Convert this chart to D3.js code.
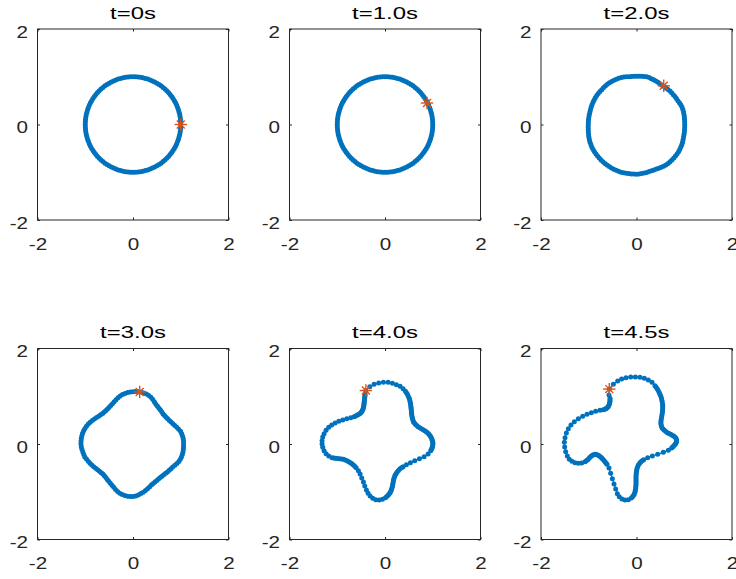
<!DOCTYPE html>
<html>
<head>
<meta charset="utf-8">
<script src="https://cdn.jsdelivr.net/npm/d3@7"></script>
<style>
  body { margin: 0; background: #fff; }
  svg { display: block; font-family: "Liberation Sans", Arial, Helvetica, sans-serif; }
</style>
</head>
<body>
<svg id="fig" width="736" height="579"></svg>
<script>
// ---- data ----
var titles = ["t=0s", "t=1.0s", "t=2.0s", "t=3.0s", "t=4.0s", "t=4.5s"];
var tick_values = [-2, 0, 2];

// first four snapshots: radius of the interface every 3 degrees (0..357)
var angles = d3.range(0, 360, 3);
var r_t00 = [1,1,1,1,1,1,1,1,1,1, 1,1,1,1,1,1,1,1,1,1, 1,1,1,1,1,1,1,1,1,1,
             1,1,1,1,1,1,1,1,1,1, 1,1,1,1,1,1,1,1,1,1, 1,1,1,1,1,1,1,1,1,1,
             1,1,1,1,1,1,1,1,1,1, 1,1,1,1,1,1,1,1,1,1, 1,1,1,1,1,1,1,1,1,1,
             1,1,1,1,1,1,1,1,1,1, 1,1,1,1,1,1,1,1,1,1, 1,1,1,1,1,1,1,1,1,1];
var r_t10 = [1,1,1,1,1,1,1,1,1,1, 1,1,1,1,1,1,1,1,1,1, 1,1,1,1,1,1,1,1,1,1,
             1,1,1,1,1,1,1,1,1,1, 1,1,1,1,1,1,1,1,1,1, 1,1,1,1,1,1,1,1,1,1,
             1,1,1,1,1,1,1,1,1,1, 1,1,1,1,1,1,1,1,1,1, 1,1,1,1,1,1,1,1,1,1,
             1,1,1,1,1,1,1,1,1,1, 1,1,1,1,1,1,1,1,1,1, 1,1,1,1,1,1,1,1,1,1];
var r_t20 = [1.01,1.01,1.011,1.014,1.017,1.02,1.02,1.02,1.014,1.008,
             1.0,0.997,0.994,0.991,0.99,0.99,0.987,0.984,0.982,0.982,
             0.985,0.991,0.997,1.004,1.01,1.02,1.02,1.02,1.018,1.014,
             1.01,1.01,1.01,1.014,1.022,1.03,1.033,1.036,1.038,1.04,
             1.04,1.04,1.04,1.038,1.035,1.03,1.03,1.03,1.03,1.028,
             1.025,1.022,1.019,1.016,1.013,1.01,1.01,1.01,1.01,1.01,
             1.01,1.013,1.016,1.02,1.026,1.032,1.038,1.042,1.045,1.048,
             1.05,1.05,1.05,1.05,1.05,1.05,1.05,1.05,1.05,1.05,
             1.05,1.05,1.05,1.05,1.05,1.045,1.042,1.04,1.04,1.04,
             1.04,1.037,1.034,1.031,1.026,1.02,1.02,1.02,1.022,1.027,
             1.035,1.041,1.047,1.05,1.05,1.05,1.05,1.05,1.05,1.05,
             1.045,1.042,1.038,1.032,1.026,1.02,1.017,1.015,1.013,1.011];
var r_t30 = [1.06,1.06,1.058,1.052,1.042,1.03,1.006,0.982,0.958,0.938,
             0.92,0.908,0.898,0.892,0.89,0.89,0.902,0.914,0.926,0.942,
             0.96,0.99,1.02,1.05,1.07,1.085,1.091,1.096,1.099,1.099,
             1.095,1.089,1.082,1.073,1.058,1.04,1.016,0.992,0.968,0.948,
             0.93,0.918,0.908,0.902,0.90,0.90,0.912,0.926,0.944,0.964,
             0.985,1.006,1.026,1.044,1.058,1.07,1.079,1.086,1.089,1.09,
             1.09,1.084,1.076,1.064,1.054,1.045,1.024,1.004,0.986,0.968,
             0.95,0.932,0.916,0.904,0.896,0.89,0.896,0.904,0.916,0.932,
             0.95,0.968,0.99,1.02,1.046,1.07,1.082,1.092,1.098,1.10,
             1.10,1.088,1.073,1.052,1.031,1.01,0.986,0.963,0.942,0.929,
             0.92,0.914,0.909,0.906,0.907,0.91,0.919,0.928,0.937,0.948,
             0.96,0.984,1.007,1.028,1.041,1.05,1.056,1.06,1.06,1.06];

// last two snapshots: marker positions along the interface (starting at the tracked point)
var x_t40 = [-0.403,-0.319,-0.229,-0.131,-0.033,0.065,0.155,0.239,0.316,0.379,0.428,
             0.449,0.470,0.488,0.505,0.516,0.526,0.533,0.539,0.543,0.546,0.550,0.553,0.557,0.560,0.567,0.574,0.585,0.595,0.616,0.637,
             0.665,0.693,0.728,0.763,0.798,0.833,0.864,0.895,0.920,0.944,0.962,0.979,0.990,1.000,1.003,1.000,0.994,0.986,0.972,0.958,
             0.902,0.819,0.721,0.623,0.532,0.448,
             0.379,0.344,0.309,0.281,0.253,0.232,0.211,0.197,0.183,0.176,0.169,0.162,0.155,0.145,0.134,0.120,0.106,0.086,0.065,0.037,
             0.009,-0.054,-0.124,-0.194,-0.257,-0.312,-0.354,
             -0.389,-0.424,-0.452,-0.487,-0.522,-0.557,
             -0.605,-0.633,-0.661,-0.693,-0.724,-0.759,-0.794,-0.833,-0.871,-0.913,-0.955,-0.997,-1.039,-1.074,-1.109,
             -1.178,-1.234,-1.276,-1.304,-1.318,-1.318,-1.304,-1.276,-1.234,-1.178,-1.115,-1.045,-0.968,-0.885,-0.801,-0.717,
             -0.647,-0.616,-0.585,-0.557,-0.529,-0.508,-0.487,-0.473,-0.459,-0.452,-0.445,-0.441,-0.438,-0.434,-0.431,-0.427,-0.424,-0.420,-0.417];
var y_t40 = [1.117,1.201,1.250,1.277,1.291,1.291,1.270,1.243,1.208,1.159,1.103,
             1.072,1.040,1.002,0.963,0.925,0.887,0.852,0.817,0.782,0.747,0.712,0.677,0.642,0.607,0.573,0.538,0.503,0.468,0.440,0.412,
             0.388,0.363,0.342,0.321,0.300,0.279,0.255,0.230,0.203,0.175,0.144,0.112,0.081,0.049,0.014,-0.021,-0.053,-0.084,-0.112,-0.140,
             -0.209,-0.265,-0.307,-0.349,-0.391,-0.433,
             -0.475,-0.499,-0.524,-0.555,-0.586,-0.621,-0.656,-0.695,-0.733,-0.772,-0.810,-0.849,-0.887,-0.922,-0.956,-0.988,-1.019,-1.047,-1.075,-1.100,
             -1.124,-1.159,-1.173,-1.166,-1.138,-1.089,-1.033,
             -0.963,-0.880,-0.796,-0.712,-0.628,-0.558,
             -0.496,-0.468,-0.440,-0.415,-0.391,-0.370,-0.349,-0.335,-0.321,-0.314,-0.307,-0.303,-0.300,-0.293,-0.286,
             -0.251,-0.202,-0.140,-0.070,0.000,0.070,0.147,0.216,0.286,0.349,0.398,0.440,0.475,0.503,0.531,0.551,
             0.572,0.586,0.600,0.617,0.635,0.656,0.677,0.705,0.733,0.764,0.796,0.827,0.859,0.890,0.921,0.952,0.984,1.015,1.047];
var x_t45 = [-0.569,-0.485,-0.394,-0.311,-0.220,-0.122,-0.024,0.073,0.164,0.248,0.325,0.387,
             0.412,0.436,0.457,0.478,0.496,0.513,0.524,0.534,0.541,0.548,0.549,0.548,0.545,0.541,0.534,0.527,0.520,0.513,0.511,0.513,
             0.521,0.534,0.556,0.583,0.614,0.646,0.681,0.716,0.747,0.778,0.804,0.827,0.837,0.841,0.834,0.820,0.800,0.778,0.757,0.736,
             0.667,0.562,0.443,0.332,0.234,
             0.150,0.119,0.087,0.063,0.038,0.024,0.010,0.004,-0.003,-0.007,-0.010,-0.010,-0.010,-0.010,-0.010,-0.014,-0.017,-0.024,-0.031,-0.045,
             -0.059,-0.084,-0.108,-0.171,-0.241,-0.304,-0.360,-0.401,
             -0.436,-0.471,-0.506,-0.541,-0.576,
             -0.618,-0.639,-0.660,-0.685,-0.709,-0.733,-0.757,-0.785,-0.813,-0.841,-0.869,-0.897,-0.925,-0.950,-0.974,-0.998,-1.022,-1.050,-1.078,-1.148,
             -1.218,-1.288,-1.351,-1.407,
             -1.449,-1.483,-1.504,-1.511,-1.497,-1.469,-1.428,-1.372,-1.302,-1.218,-1.127,-1.036,-0.946,-0.855,-0.764,
             -0.694,-0.666,-0.639,-0.618,-0.597,-0.583,-0.569,-0.562,-0.555,-0.555,-0.555,
             -0.576];
var y_t45 = [1.152,1.250,1.319,1.361,1.389,1.403,1.403,1.396,1.375,1.340,1.291,1.222,
             1.187,1.152,1.114,1.075,1.033,0.991,0.950,0.908,0.866,0.824,0.782,0.740,0.698,0.656,0.614,0.572,0.531,0.489,0.450,0.412,
             0.376,0.342,0.313,0.286,0.260,0.237,0.219,0.202,0.185,0.168,0.145,0.119,0.091,0.063,0.035,0.007,-0.018,-0.042,-0.063,-0.084,
             -0.133,-0.175,-0.216,-0.251,-0.286,
             -0.328,-0.353,-0.377,-0.409,-0.440,-0.479,-0.517,-0.555,-0.593,-0.635,-0.677,-0.719,-0.761,-0.803,-0.845,-0.887,-0.928,-0.967,-1.005,-1.040,
             -1.075,-1.103,-1.131,-1.166,-1.173,-1.152,-1.103,-1.040,
             -0.942,-0.838,-0.726,-0.614,-0.503,
             -0.426,-0.398,-0.370,-0.342,-0.314,-0.290,-0.265,-0.245,-0.230,-0.220,-0.216,-0.225,-0.237,-0.258,-0.279,-0.304,-0.328,-0.350,-0.370,-0.398,
             -0.405,-0.391,-0.363,-0.321,
             -0.251,-0.161,-0.063,0.035,0.133,0.230,0.321,0.398,0.468,0.531,0.579,0.621,0.656,0.684,0.705,
             0.719,0.729,0.740,0.757,0.775,0.803,0.831,0.862,0.894,0.925,0.956,
             1.026];

// tracked point (red asterisk) in each panel
var star_x = [1.00, 0.88, 0.57, 0.14, -0.40, -0.57];
var star_y = [0.00, 0.45, 0.81, 1.09, 1.12, 1.15];

// ---- build point lists ----
function polar_points(radii) {
  return angles.map(function(a, i) {
    var t = a * Math.PI / 180;
    return [radii[i] * Math.cos(t), radii[i] * Math.sin(t)];
  });
}
function xy_points(xs, ys) {
  return d3.range(Math.min(xs.length, ys.length)).map(function(i) { return [xs[i], ys[i]]; });
}
var curves = [polar_points(r_t00), polar_points(r_t10), polar_points(r_t20),
              polar_points(r_t30), xy_points(x_t40, y_t40), xy_points(x_t45, y_t45)];

// ---- layout ----
var svg = d3.select("#fig");
var col_left = [37.5, 289.5, 541],
    row_top = [29, 348.5],
    size = 191;
var axis_color = "#262626",
    blue = "#0072BD",
    orange = "#D95319";
var tick_stretch = 1.25, title_stretch = 1.45;

var x = d3.scaleLinear().domain([-2, 2]).range([0, size]);
var y = d3.scaleLinear().domain([-2, 2]).range([size, 0]);

var line = d3.line()
  .x(function(d) { return x(d[0]); })
  .y(function(d) { return y(d[1]); })
  .curve(d3.curveLinearClosed);

// plain hyphen minus, like the reference labels
var tick_fmt = function(d) { return String(d); };

function style_axis(g) {
  g.attr("font-size", null).attr("font-family", null).attr("color", axis_color);
  g.select(".domain").remove();
  g.selectAll("line").attr("stroke", axis_color);
  g.selectAll("text").style("font-size", "16.5px").attr("fill", axis_color);
}

curves.forEach(function(pts, p) {
  var left = col_left[p % 3], top = row_top[Math.floor(p / 3)];
  var g = svg.append("g").attr("transform", "translate(" + left + "," + top + ")");

  // title
  svg.append("text")
    .attr("transform", "translate(" + (left + size / 2) + "," + (top - 10.5) + ") scale(" + title_stretch + ",1)")
    .attr("text-anchor", "middle")
    .style("font-size", "16.5px")
    .attr("fill", "#000")
    .text(titles[p]);

  // axes with inward ticks
  var gb = g.append("g").attr("transform", "translate(0," + size + ")")
    .call(d3.axisBottom(x).tickValues(tick_values).tickFormat(tick_fmt)
      .tickSizeInner(-2.5).tickSizeOuter(0).tickPadding(18));
  style_axis(gb);
  gb.selectAll("text").attr("transform", "scale(" + tick_stretch + ",1)");

  var gl = g.append("g")
    .call(d3.axisLeft(y).tickValues(tick_values).tickFormat(tick_fmt)
      .tickSizeInner(-2.5).tickSizeOuter(0).tickPadding(9.5));
  style_axis(gl);
  gl.selectAll("text")
    .attr("x", -9.5 / tick_stretch)
    .attr("y", 3)
    .attr("transform", "scale(" + tick_stretch + ",1)");

  var gt = g.append("g")
    .call(d3.axisTop(x).tickValues(tick_values).tickSizeInner(-2.5).tickSizeOuter(0).tickFormat(""));
  style_axis(gt);
  var gr = g.append("g").attr("transform", "translate(" + size + ",0)")
    .call(d3.axisRight(y).tickValues(tick_values).tickSizeInner(-2.5).tickSizeOuter(0).tickFormat(""));
  style_axis(gr);

  g.append("rect")
    .attr("width", size).attr("height", size)
    .attr("fill", "none").attr("stroke", axis_color).attr("stroke-width", 1);

  // interface: line plus point markers
  g.append("path")
    .datum(pts)
    .attr("d", line)
    .attr("fill", "none")
    .attr("stroke", blue)
    .attr("stroke-width", 1.2);

  g.selectAll("circle.pt")
    .data(pts)
    .enter().append("circle")
    .attr("class", "pt")
    .attr("cx", function(d) { return x(d[0]); })
    .attr("cy", function(d) { return y(d[1]); })
    .attr("r", 2.5)
    .attr("fill", blue);

  // asterisk marker for the tracked point
  var sx = x(star_x[p]), sy = y(star_y[p]);
  var star = g.append("g").attr("transform", "translate(" + sx + "," + sy + ")");
  [0, 45, 90, 135].forEach(function(a) {
    var t = a * Math.PI / 180, len = (a % 90 === 0) ? 6.2 : 5.6;
    star.append("line")
      .attr("x1", -len * Math.cos(t)).attr("y1", -len * Math.sin(t))
      .attr("x2", len * Math.cos(t)).attr("y2", len * Math.sin(t))
      .attr("stroke", orange)
      .attr("stroke-width", 1.4);
  });
});
</script>
</body>
</html>
